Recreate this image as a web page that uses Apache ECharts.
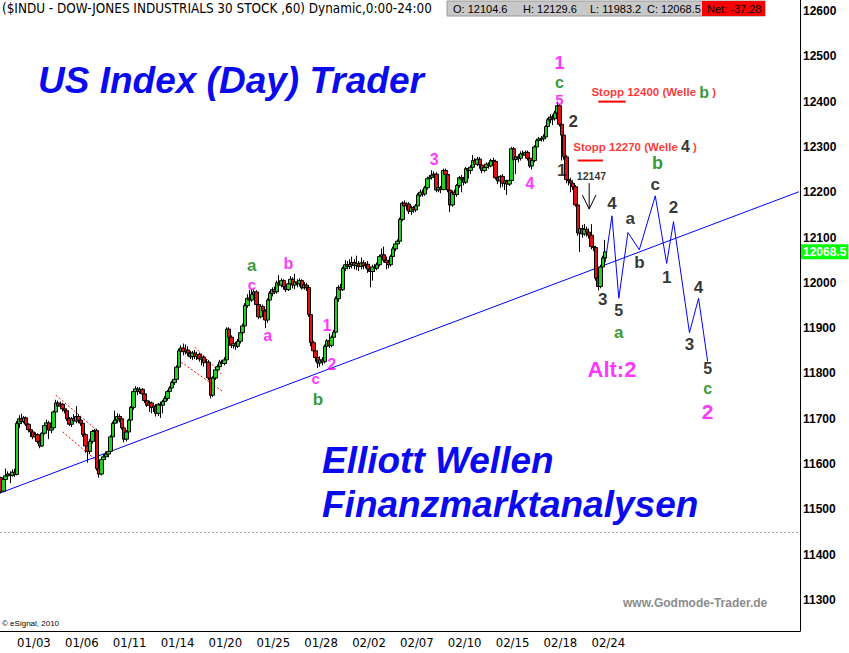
<!DOCTYPE html>
<html><head><meta charset="utf-8">
<script src="https://cdn.jsdelivr.net/npm/echarts@6/dist/echarts.min.js"></script>
<style>html,body{margin:0;padding:0;background:#fff}#c{width:849px;height:653px}</style>
</head><body><div id="c"></div>
<script>
// ---- x axis: first hourly bar of each labelled day ----
const dateLabels = ['01/03','01/06','01/11','01/14','01/20','01/25','01/28','02/02','02/07','02/10','02/15','02/18','02/24'];
const dateBarIndex = [7, 28, 49, 70, 91, 112, 133, 154, 175, 196, 217, 238, 259];
const barSlots = 351;
// ---- y axis ----
const priceTicks = [11300,11400,11500,11600,11700,11800,11900,12000,12100,12200,12300,12400,12500,12600];
const lastPrice = 12068.5;
const refLevel = 11450;
// ---- hourly bars: [open, close, low, high] ----
const ohlcBars = [
// 12/31
[11570,11540,11535,11572],[11540,11566,11538,11570],[11566,11574,11560,11590],[11574,11578,11568,11584],[11578,11575,11558,11584],[11575,11582,11572,11588],[11582,11577,11572,11590],
// 01/03
[11577,11690,11575,11695],[11690,11700,11680,11708],[11700,11694,11688,11711],[11694,11702,11690,11706],[11702,11688,11684,11705],[11688,11676,11670,11690],[11676,11671,11660,11680],
// 01/04
[11671,11660,11655,11674],[11660,11665,11652,11670],[11665,11650,11645,11668],[11650,11640,11635,11655],[11640,11668,11638,11670],[11668,11685,11665,11690],[11685,11691,11680,11698],
// 01/05
[11691,11675,11655,11695],[11675,11680,11668,11685],[11680,11715,11678,11718],[11715,11735,11712,11742],[11735,11728,11722,11740],[11728,11732,11724,11738],[11732,11722,11716,11735],
// 01/06
[11722,11718,11712,11728],[11718,11700,11695,11722],[11700,11688,11684,11704],[11688,11700,11682,11704],[11700,11695,11688,11710],[11695,11705,11690,11728],[11705,11697,11690,11710],
// 01/07
[11697,11690,11684,11702],[11690,11665,11660,11695],[11665,11640,11625,11668],[11640,11628,11603,11645],[11628,11650,11622,11655],[11650,11672,11645,11676],[11672,11674,11665,11678],
// 01/10
[11674,11590,11585,11678],[11590,11578,11570,11600],[11578,11610,11575,11614],[11610,11616,11604,11622],[11616,11622,11610,11628],[11622,11628,11615,11634],[11628,11660,11624,11664],
// 01/11
[11660,11690,11656,11694],[11690,11697,11685,11718],[11697,11705,11690,11712],[11705,11700,11692,11710],[11700,11680,11676,11704],[11680,11655,11648,11684],[11655,11671,11650,11675],
// 01/12
[11671,11697,11668,11700],[11697,11725,11692,11728],[11725,11760,11720,11764],[11760,11766,11754,11772],[11766,11760,11752,11770],[11760,11765,11755,11770],[11765,11755,11748,11768],
// 01/13
[11755,11740,11735,11758],[11740,11730,11726,11745],[11730,11735,11715,11740],[11735,11725,11712,11738],[11725,11728,11715,11734],[11728,11712,11705,11732],[11712,11732,11706,11735],
// 01/14
[11732,11730,11702,11738],[11730,11738,11712,11742],[11738,11745,11730,11750],[11745,11760,11740,11764],[11760,11768,11755,11772],[11768,11780,11762,11784],[11780,11787,11775,11792],
// 01/18
[11787,11814,11782,11818],[11814,11850,11810,11855],[11850,11856,11844,11862],[11856,11848,11840,11866],[11848,11852,11842,11864],[11852,11845,11838,11860],[11845,11837,11832,11850],
// 01/19
[11837,11845,11830,11850],[11845,11838,11832,11852],[11838,11842,11830,11848],[11842,11832,11826,11846],[11832,11836,11818,11840],[11836,11824,11815,11840],[11824,11825,11818,11832],
// 01/20
[11825,11790,11785,11830],[11790,11752,11745,11795],[11752,11790,11748,11794],[11790,11808,11786,11812],[11808,11815,11800,11820],[11815,11825,11810,11830],[11825,11822,11815,11830],
// 01/21
[11822,11830,11818,11836],[11830,11898,11826,11902],[11898,11880,11875,11902],[11880,11862,11856,11884],[11862,11866,11855,11872],[11866,11860,11852,11870],[11860,11871,11856,11876],
// 01/24
[11871,11890,11866,11895],[11890,11905,11884,11910],[11905,11950,11900,11955],[11950,11966,11945,11975],[11966,11962,11955,11984],[11962,11975,11958,11986],[11975,11980,11968,11985],
// 01/25
[11980,11952,11948,11984],[11952,11925,11920,11956],[11925,11948,11922,11952],[11948,11938,11930,11952],[11938,11918,11900,11942],[11918,11962,11912,11966],[11962,11977,11955,11982],
// 01/26
[11977,11985,11970,11990],[11985,11980,11975,11992],[11980,12000,11976,12005],[12000,11995,11988,12017],[11995,12005,11990,12010],[12005,11992,11985,12008],[11992,11985,11980,11998],
// 01/27
[11985,11998,11982,12002],[11998,12008,11992,12015],[12008,11995,11988,12012],[11995,12002,11986,12020],[12002,11998,11990,12008],[11998,12005,11992,12010],[12005,11989,11985,12008],
// 01/28
[11989,11995,11985,12002],[11995,11990,11982,12000],[11990,11930,11925,11994],[11930,11868,11860,11935],[11868,11850,11838,11872],[11850,11835,11826,11856],[11835,11823,11812,11845],
// 01/31
[11823,11830,11815,11838],[11830,11826,11818,11836],[11826,11860,11822,11864],[11860,11872,11855,11876],[11872,11862,11856,11888],[11862,11880,11858,11884],[11880,11891,11876,11896],
// 02/01
[11891,11965,11888,11970],[11965,11990,11958,11995],[11990,11985,11978,11998],[11985,12032,11982,12036],[12032,12040,12026,12050],[12040,12036,12030,12048],[12036,12040,12030,12052],
// 02/02
[12040,12045,12032,12058],[12045,12038,12030,12052],[12038,12042,12028,12060],[12042,12036,12026,12048],[12036,12044,12030,12056],[12044,12038,12030,12050],[12038,12041,12032,12046],
// 02/03
[12041,12030,12022,12048],[12030,12025,11990,12036],[12025,12035,12005,12040],[12035,12032,12025,12042],[12032,12040,12028,12045],[12040,12058,12036,12062],[12058,12062,12050,12076],
// 02/04
[12062,12050,12045,12080],[12050,12045,12030,12058],[12045,12040,12032,12050],[12040,12058,12036,12062],[12058,12075,12054,12080],[12075,12086,12070,12090],[12086,12092,12080,12096],
// 02/07
[12092,12140,12090,12144],[12140,12176,12136,12180],[12176,12170,12164,12182],[12170,12174,12160,12178],[12174,12158,12152,12178],[12158,12166,12150,12170],[12166,12161,12155,12170],
// 02/08
[12161,12170,12156,12174],[12170,12194,12166,12198],[12194,12200,12190,12206],[12200,12196,12190,12206],[12196,12210,12192,12214],[12210,12230,12206,12234],[12230,12233,12226,12238],
// 02/09
[12233,12238,12228,12249],[12238,12240,12232,12246],[12240,12205,12200,12244],[12205,12210,12200,12215],[12210,12206,12198,12214],[12206,12248,12204,12252],[12248,12239,12234,12252],
// 02/10
[12239,12205,12200,12244],[12205,12172,12156,12210],[12172,12200,12168,12204],[12200,12195,12180,12206],[12195,12215,12190,12218],[12215,12232,12210,12236],[12232,12229,12200,12238],
// 02/11
[12229,12222,12215,12234],[12222,12252,12218,12256],[12252,12248,12230,12256],[12248,12255,12240,12260],[12255,12270,12250,12282],[12270,12262,12256,12275],[12262,12273,12258,12278],
// 02/14
[12273,12260,12252,12278],[12260,12248,12242,12265],[12248,12255,12244,12262],[12255,12262,12250,12266],[12262,12258,12252,12266],[12258,12270,12255,12274],[12270,12268,12262,12276],
// 02/15
[12268,12232,12228,12272],[12232,12225,12218,12238],[12225,12235,12210,12238],[12235,12220,12212,12240],[12220,12225,12205,12230],[12225,12218,12194,12228],[12218,12226,12214,12230],
// 02/16
[12226,12296,12222,12300],[12296,12272,12268,12300],[12272,12278,12240,12282],[12278,12275,12266,12284],[12275,12285,12270,12290],[12285,12282,12276,12292],[12282,12288,12278,12292],
// 02/17
[12288,12275,12270,12292],[12275,12258,12254,12280],[12258,12270,12250,12274],[12270,12300,12266,12304],[12300,12314,12296,12318],[12314,12318,12310,12322],[12318,12318,12312,12324],
// 02/18
[12318,12322,12312,12328],[12322,12345,12318,12348],[12345,12360,12340,12364],[12360,12366,12352,12372],[12366,12362,12348,12372],[12362,12375,12358,12380],[12375,12391,12370,12400],
// 02/22
[12391,12350,12345,12394],[12350,12326,12270,12354],[12326,12278,12272,12330],[12278,12228,12220,12282],[12228,12225,12215,12236],[12225,12220,12200,12232],[12220,12212,12205,12226],
// 02/23
[12212,12172,12168,12216],[12172,12110,12104,12176],[12110,12120,12068,12140],[12120,12108,12100,12128],[12108,12118,12104,12130],[12118,12112,12102,12124],[12112,12105,12098,12120],
// 02/24
[12105,12080,12074,12129.6],[12080,12078,12070,12086],[12078,12010,12005,12082],[12010,11992,11983.2,12018],[11992,12035,11988,12040],[12035,12055,12030,12060],[12055,12068.5,12050,12095]
];
// ---- drawn lines (bar index, price) ----
const trendLine = [[0,11537],[350,12201]];
const projection = [[265,12045],[268,12148],[271,11966],[275,12111],[280,12073],[287,12192],[292,12043],[295,12135],[302,11890],[306,11966],[310,11826]];
const channelLines = [
  [[24,11752],[42,11675]], [[27,11671],[42,11607]],
  [[85,11858],[97,11797]], [[79,11825],[97,11761]]
];
const arrowLines = [[[258,12220],[258,12163]], [[255,12194],[258,12163]], [[261,12194],[258,12163]]];
const stopLines = [[[262,12400],[274,12400]], [[253,12270],[264,12270]]];
// ---- wave labels: [bar index, price, text, colour key, font size] ----
const waveLabels = [
  [245,12486,'1','m',18],[245,12443,'c','g',16],[245,12404,'5','m',15],
  [251,12357,'2','k',17],[246,12249,'1','k',17],[259,12236,'12147','k',10.5],
  [268,12176,'4','k',17],[276,12141,'a','k',17],[280,12044,'b','k',17],
  [287,12216,'c','k',17],[288,12264,'b','g',18],[295,12167,'2','k',17],
  [292,12011,'1','k',17],[264,11964,'3','k',17],[271,11938,'5','k',16],
  [271,11891,'a','g',17],[306,11989,'4','k',17],[302,11863,'3','k',17],
  [310,11810,'5','k',16],[310,11766,'c','g',16],[310,11715,'2','m',21],
  [268,11808,'Alt:2','m',22],
  [190,12273,'3','m',16],[232,12220,'4','m',16],
  [110,12039,'a','g',17],[110,11997,'c','m',15],[126,12042,'b','m',16],[117,11883,'a','m',16],
  [143,11905,'1','m',16],[145,11819,'2','m',16],[138,11790,'c','m',15],[139,11742,'b','g',17]
];
const stopNotes = [
  [259,12421,'Stopp 12400 (Welle ','b','g',' )'],
  [251,12300,'Stopp 12270 (Welle ','4','k',' )']
];
const palette = {m:'#ff00ff', g:'#008000', k:'#000000'};

const categories = Array.from({length: barSlots}, (_, i) => String(i));
const FONT = "'Liberation Sans', Arial, sans-serif";
const NARROW = "'Liberation Sans Narrow','Arial Narrow','DejaVu Sans Condensed',sans-serif";

const chart = echarts.init(document.getElementById('c'), null, {renderer: 'svg'});

const lineSeg = (pts, color, width, type) => ({
  type: 'line', data: pts, symbol: 'none', silent: true, animation: false,
  lineStyle: {color, width, type}, z: 3
});

const series = [
  lineSeg(trendLine, '#0000ff', 1, 'solid'),
  {
    type: 'candlestick', data: ohlcBars, barWidth: 4, z: 4, animation: false,
    itemStyle: {color: '#1fd21f', color0: '#e01010', borderColor: '#000', borderColor0: '#000', borderWidth: 1},
    markLine: {
      silent: true, symbol: ['none','none'], animation: false,
      data: [
        {yAxis: lastPrice, lineStyle: {color: 'rgba(0,0,0,0)', width: 1},
         label: {show: true, position: 'end', distance: 1, formatter: lastPrice.toFixed(1),
                 backgroundColor: '#00ff00', color: '#ffffff', fontWeight: 'bold', fontSize: 12,
                 fontFamily: FONT, padding: [2, 2, 1, 2]}},
        {yAxis: refLevel, lineStyle: {color: '#b0b0b0', type: [2, 2], width: 1}, label: {show: false}}
      ]
    }
  },
  lineSeg(projection, '#0000ff', 1, 'solid')
];
channelLines.forEach(l => series.push(lineSeg(l, '#ff0000', 1, [2, 2])));
arrowLines.forEach(l => series.push(lineSeg(l, '#000000', 1, 'solid')));
stopLines.forEach(l => series.push(lineSeg(l, '#ff0000', 2, 'solid')));

series.push({
  type: 'scatter', symbolSize: 0, silent: true, animation: false, z: 6,
  data: waveLabels.map(w => ({
    value: [w[0], w[1]],
    label: {show: true, position: 'inside', formatter: w[2], color: palette[w[3]],
            fontSize: w[4], lineHeight: Math.round(w[4] * 0.75), fontWeight: 'bold', fontFamily: FONT}
  }))
});
series.push({
  type: 'scatter', symbolSize: 0, silent: true, animation: false, z: 6,
  data: stopNotes.map(s => ({
    value: [s[0], s[1]],
    label: {show: true, position: 'right', distance: 0,
            formatter: '{r|' + s[2] + '}{w|' + s[3] + '}{r|' + s[5] + '}',
            rich: {
              r: {color: '#ff0000', fontSize: 11.5, fontWeight: 'bold', fontFamily: FONT},
              w: {color: palette[s[4]], fontSize: 16, fontWeight: 'bold', fontFamily: FONT}
            }}
  }))
});

const txt = (x, y, text, font, fill, align) => ({
  type: 'text', silent: true, z: 10,
  style: {x, y, text, font, fill, align: align || 'left', verticalAlign: 'middle',
          textAlign: align || 'left', textVerticalAlign: 'middle'}
});

chart.setOption({
  animation: false,
  backgroundColor: '#ffffff',
  grid: {left: 0, right: 49, top: 0, bottom: 22, containLabel: false},
  xAxis: {
    type: 'category', data: categories, boundaryGap: true,
    axisLine: {show: true, lineStyle: {color: '#000', width: 1}},
    axisTick: {show: false},
    axisLabel: {
      interval: (i) => dateBarIndex.indexOf(i) >= 0,
      formatter: (v, i) => { const k = dateBarIndex.indexOf(i); return k >= 0 ? dateLabels[k] : ''; },
      align: 'left', color: '#000', fontSize: 13, fontFamily: NARROW, margin: 5
    },
    splitLine: {show: false}
  },
  yAxis: {
    type: 'value', position: 'right', min: 11231.6, max: 12624.3, scale: true,
    axisLine: {show: true, lineStyle: {color: '#000', width: 1}},
    axisTick: {show: false},
    axisLabel: {customValues: priceTicks, formatter: (v) => String(v), color: '#000', fontWeight: 'bold', fontSize: 12, fontFamily: FONT, margin: 3},
    splitLine: {show: false}
  },
  graphic: [
    txt(2, 8, '($INDU - DOW-JONES INDUSTRIALS 30 STOCK ,60) Dynamic,0:00-24:00', '13.4px ' + NARROW, '#000'),
    {type: 'rect', silent: true, z: 9, shape: {x: 447, y: 1, width: 318, height: 15}, style: {fill: '#c8c8c8', stroke: '#999'}},
    {type: 'rect', silent: true, z: 9, shape: {x: 702, y: 1, width: 63, height: 15}, style: {fill: '#ff0000'}},
    txt(453, 9, 'O: 12104.6', '11px ' + FONT, '#000'),
    txt(523, 9, 'H: 12129.6', '11px ' + FONT, '#000'),
    txt(590, 9, 'L: 11983.2', '11px ' + FONT, '#000'),
    txt(647, 9, 'C: 12068.5', '11px ' + FONT, '#000'),
    txt(707, 9, 'Net: -37.28', '11px ' + FONT, '#000'),
    txt(38, 80, 'US Index (Day) Trader', 'italic bold 37px ' + FONT, '#0a0aee'),
    txt(322, 460, 'Elliott Wellen', 'italic bold 37px ' + FONT, '#0a0aee'),
    txt(322, 504, 'Finanzmarktanalysen', 'italic bold 37px ' + FONT, '#0a0aee'),
    txt(623, 603, 'www.Godmode-Trader.de', 'bold 12px ' + FONT, '#8c8c8c'),
    txt(2, 623, '© eSignal, 2010', '8px ' + FONT, '#000')
  ],
  series
});
</script></body></html>
